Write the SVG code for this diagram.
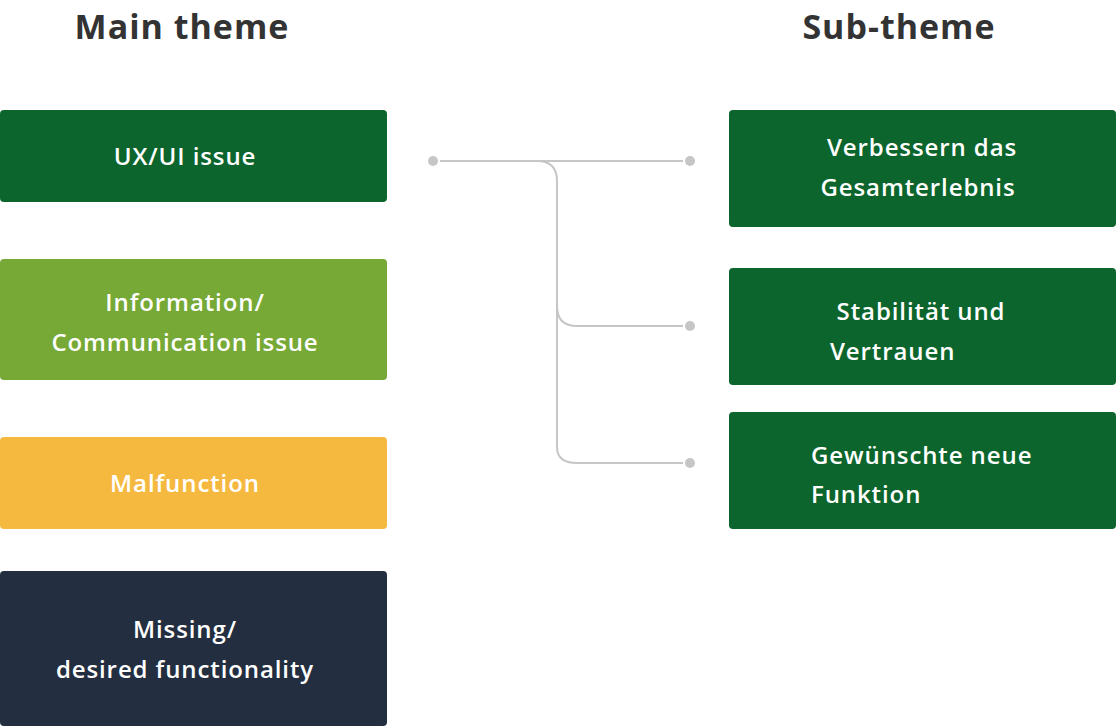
<svg xmlns="http://www.w3.org/2000/svg" width="1116" height="726" viewBox="0 0 1116 726">
<style>
.hdr{font-family:"Open Sans","Liberation Sans",sans-serif;font-weight:700;font-size:34px;letter-spacing:1px;fill:#333333;text-anchor:middle}
.lbl{font-family:"Open Sans","Liberation Sans",sans-serif;font-weight:600;font-size:24px;letter-spacing:0.9px;fill:#ffffff}
.c{text-anchor:middle}
.dg{fill:#0b652d}
.lg{fill:#76a936}
.yl{fill:#f6b940}
.nv{fill:#232f40}
.ln{fill:none;stroke:#c6c6c6;stroke-width:2}
.dot{fill:#c6c6c6}
</style>
<rect width="1116" height="726" fill="#ffffff"/>
<text class="hdr" x="182" y="39">Main theme</text>
<text class="hdr" x="899" y="39">Sub-theme</text>
<g id="connectors">
<path class="ln" d="M440 161 H683"/>
<path class="ln" d="M537 161 Q557 161 557 181 V447 Q557 463 577 463 H683"/>
<path class="ln" d="M557 306 Q557 326 577 326 H683"/>
<circle class="dot" cx="433" cy="161" r="5"/>
<circle class="dot" cx="690" cy="161" r="5"/>
<circle class="dot" cx="690" cy="326" r="5"/>
<circle class="dot" cx="690" cy="463" r="5"/>
</g>
<g id="ux-ui">
<rect class="dg" x="0" y="110" width="387" height="92" rx="4"/>
<text class="lbl c" x="185" y="165">UX/UI issue</text>
</g>
<g id="information">
<rect class="lg" x="0" y="259" width="387" height="121" rx="4"/>
<text class="lbl c" x="185" y="311">Information/</text>
<text class="lbl c" x="185" y="351">Communication issue</text>
</g>
<g id="malfunction">
<rect class="yl" x="0" y="437" width="387" height="92" rx="4"/>
<text class="lbl c" x="185" y="492">Malfunction</text>
</g>
<g id="missing">
<rect class="nv" x="0" y="571" width="387" height="155" rx="4"/>
<text class="lbl c" x="185" y="638">Missing/</text>
<text class="lbl c" x="185" y="678">desired functionality</text>
</g>
<g id="verbessern">
<rect class="dg" x="729" y="110" width="387" height="117" rx="4"/>
<text class="lbl c" x="922" y="156">Verbessern das</text>
<text class="lbl c" x="918" y="196">Gesamterlebnis</text>
</g>
<g id="stabilitaet">
<rect class="dg" x="729" y="268" width="387" height="117" rx="4"/>
<text class="lbl c" x="921" y="320">Stabilität und</text>
<text class="lbl" x="830" y="360">Vertrauen</text>
</g>
<g id="gewuenscht">
<rect class="dg" x="729" y="412" width="387" height="117" rx="4"/>
<text class="lbl" x="811" y="464">Gewünschte neue</text>
<text class="lbl" x="811" y="503">Funktion</text>
</g>
</svg>
